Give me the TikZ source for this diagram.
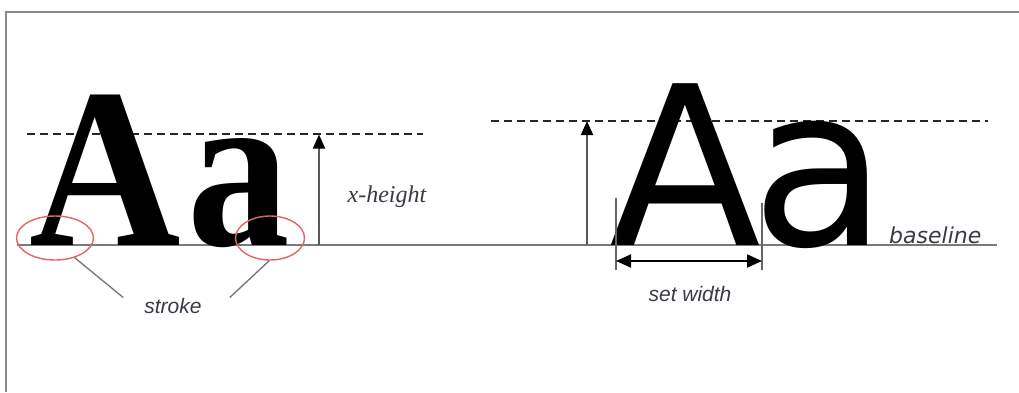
\documentclass[tikz,border=0pt]{standalone}
\usepackage{fontspec}
\setmainfont{Liberation Serif}
\newfontfamily\glyphsans{DejaVu Sans}
\newfontfamily\labelsans{Liberation Sans}
\usetikzlibrary{arrows.meta,shapes.geometric,calc}
\definecolor{framegray}{HTML}{8A8A8A}
\definecolor{linegray}{HTML}{7A7A7A}
\definecolor{labelgray}{HTML}{3A3A44}
\definecolor{ringred}{HTML}{E06666}
\tikzset{
  glyph/.style={inner sep=0pt, anchor=base},
  serifglyph/.style={glyph, font=\fontsize{228}{228}\selectfont\bfseries},
  sansglyph/.style={glyph, font=\glyphsans\fontsize{222}{222}\selectfont},
  guide/.style={draw=black!85, line width=1.8pt, dash pattern=on 8pt off 5pt},
  baseln/.style={draw=linegray, line width=2pt},
  uparrow/.style={draw=black!65, line width=2pt, -{Triangle[length=14pt,width=12pt,color=black]}},
  widtharrow/.style={draw=black, line width=2pt, {Triangle[length=15pt,width=13pt]}-{Triangle[length=15pt,width=13pt]}},
  tick/.style={draw=black!60, line width=1.2pt},
  ring/.style={draw=ringred, line width=1.4pt, ellipse, inner sep=0pt},
  pointer/.style={draw=black!55, line width=1.3pt},
  sanslabel/.style={inner sep=0pt, anchor=base, text=labelgray, font=\labelsans\itshape\fontsize{21}{21}\selectfont},
}
\begin{document}
\begin{tikzpicture}[x=1pt,y=-1pt]
\useasboundingbox (0,0) rectangle (1019,392);
% frame
\draw[framegray, line width=2.5pt] (6,392) -- (6,12) -- (1019,12);

% guide lines
\draw[guide] (27,134) -- (423,134);
\draw[guide] (491,121) -- (988,121);
\draw[baseln] (17,245) -- (997,245);

% letters
\node[serifglyph] (A1) at (105,245) {\scalebox{0.92}[1]{A}};
\node[serifglyph] (a1) at (239,245) {\scalebox{0.9}[1]{a}};
\node[sansglyph] (A2) at (685,245) {A};
\node[sansglyph] (a2) at (820,245) {a};

% x-height arrows
\coordinate (xb1) at (319,245);
\coordinate (xt1) at (319,134.5);
\draw[uparrow] (xb1) -- (xt1);
\coordinate (xb2) at (587,245);
\coordinate (xt2) at (587,121);
\draw[uparrow] (xb2) -- (xt2);
\node[inner sep=0pt, anchor=base, text=labelgray, font=\itshape\fontsize{24}{24}\selectfont] (xh) at (387,202) {x-height};

% set width
\coordinate (tl) at (616,198);
\coordinate (tlb) at (616,270);
\coordinate (tr) at (762,203);
\coordinate (trb) at (762,270);
\draw[tick] (tl) -- (tlb);
\draw[tick] (tr) -- (trb);
\coordinate (wl) at (616,261);
\coordinate (wr) at (762,261);
\draw[widtharrow] (wl) -- (wr);
\node[sanslabel] (sw) at (690,301) {set width};

% baseline label
\node[inner sep=0pt, anchor=base west, text=labelgray, font=\glyphsans\itshape\fontsize{22}{22}\selectfont] (bl) at (889,243) {baseline};

% stroke rings
\node[ring, minimum width=77pt, minimum height=44pt] (e1) at (55,238) {};
\node[ring, minimum width=69pt, minimum height=44pt] (e2) at (270,238) {};
\node[sanslabel] (st) at (173,313) {stroke};
\draw[pointer] (e1.-45) -- ($(st.west)+(-21,-8)$);
\draw[pointer] (e2.-92) -- ($(st.east)+(28,-8)$);
\end{tikzpicture}
\end{document}
